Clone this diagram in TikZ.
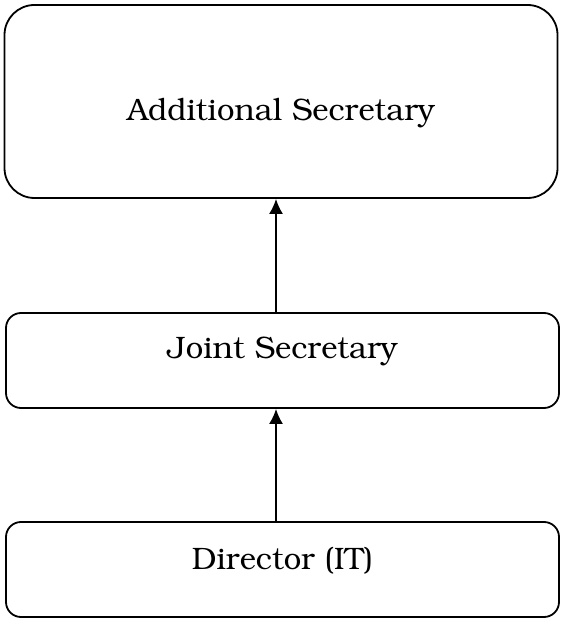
\documentclass[tikz,border=0pt]{standalone}
\usepackage[T1]{fontenc}
\usepackage{bookman}
\usetikzlibrary{positioning,arrows.meta}

\begin{document}
\begin{tikzpicture}[x=1pt,y=1pt,
  post/.style={draw,line width=1.8pt,rounded corners=15pt,minimum width=553pt,
    minimum height=95pt,font=\fontsize{31}{34}\selectfont},
  up/.style={-{Latex[length=15pt,width=14pt]},line width=1.8pt}]
\useasboundingbox (0,0) rectangle (561,619);
\node [post,minimum height=193pt,rounded corners=30pt,text height=38pt,text depth=0pt]
  (as) at (281,517.5) {Additional Secretary};
\node [post,text height=22pt,text depth=25pt] (js) at (282.5,258.5) {Joint Secretary};
\node [post,text height=22pt,text depth=21pt] (dir) at (282.5,49.5) {Director (IT)};
\draw [up] ([xshift=-6.5pt]dir.north) -- ([xshift=-6.5pt]js.south);
\draw [up] ([xshift=-6.5pt]js.north) -- ([xshift=-5pt]as.south);
\end{tikzpicture}
\end{document}
